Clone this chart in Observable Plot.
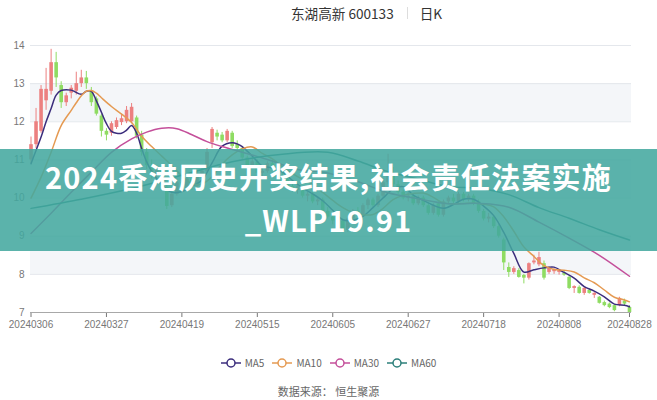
<!DOCTYPE html>
<html><head><meta charset="utf-8">
<script src="https://cdn.jsdelivr.net/npm/d3@7"></script>
<script src="https://cdn.jsdelivr.net/npm/@observablehq/plot@0.6"></script>
<style>
body{margin:0;background:#fff;font-family:"Noto Sans CJK SC","Noto Sans",sans-serif;}
#wrap{position:relative;width:657px;height:400px;overflow:hidden;background:#fff;}
#chart{position:absolute;left:0;top:0;}
#title{position:absolute;left:291px;top:3px;font-size:13.6px;line-height:20px;color:#333;display:flex;align-items:center;white-space:nowrap;}
#title .sep{display:inline-block;width:1px;height:12px;background:#ddd;margin:0 12px 0 13px;}
#banner{position:absolute;left:0;top:149px;width:657px;height:102px;background:rgba(67,168,159,0.87);color:#fff;font-weight:bold;font-size:29px;letter-spacing:1.2px;text-align:center;padding-top:6px;box-sizing:border-box;}
#banner div{height:42.5px;line-height:42.5px;white-space:nowrap;}
#legend{position:absolute;left:0;top:355px;width:657px;display:flex;justify-content:center;gap:8px;font-size:10px;color:#666;}
#legend .item{display:flex;align-items:center;}
#legend .item span{margin-left:4px;}
#source{position:absolute;left:0;top:383px;width:657px;text-align:center;font-size:11px;color:#666;}
</style></head>
<body>
<div id="wrap">
  <div id="chart"></div>
  <div id="title"><span>东湖高新 600133</span><span class="sep"></span><span>日K</span></div>
  <div id="banner"><div>2024香港历史开奖结果,社会责任法案实施</div><div>_WLP19.91</div></div>
  <div id="legend"></div>
  <div id="source">数据来源： 恒生聚源</div>
</div>
<script>
// ---- data ----
const tickIdx = [0, 15, 30, 45, 60, 75, 90, 105, 119];
const tickLabels = ["20240306","20240327","20240419","20240515","20240605","20240627","20240718","20240808","20240828"];
const yTicks = [7, 8, 9, 10, 11, 12, 13, 14];
const bands = [[8, 9], [10, 11], [12, 13]];

const open = [11.0,11.4,11.75,12.55,12.8,13.55,12.95,12.5,12.75,12.8,13.0,13.15,12.8,12.6,12.15,11.75,11.7,11.85,11.98,12.0,
12.0,12.1,11.65,11.2,10.85,10.6,10.7,10.28,9.8,10.1,10.4,10.25,10.5,10.3,10.6,10.7,11.45,11.7,11.65,11.5,
11.7,11.4,11.3,11.05,10.85,10.95,10.65,10.7,10.9,10.75,10.55,10.5,10.3,10.2,10.25,10.05,10.1,9.9,9.95,9.65,
9.5,9.4,9.4,9.15,9.45,9.65,9.55,9.8,9.95,9.8,10.05,10.4,10.6,10.35,10.15,10.0,10.05,9.85,10.0,9.8,
9.6,9.85,9.55,9.9,10.0,9.9,10.1,9.95,10.05,9.9,9.65,9.45,9.5,9.25,8.9,8.18,8.05,8.1,7.97,7.9,
8.3,8.25,8.28,8.05,8.07,8.05,8.02,7.92,7.63,7.66,7.5,7.58,7.45,7.4,7.26,7.22,7.18,7.18,7.3,7.13];
const high = [11.6,12.35,12.95,13.4,13.9,13.82,13.05,12.75,12.95,13.3,13.35,13.32,12.9,12.65,12.2,11.82,12.0,12.1,12.2,12.4,
12.48,12.15,11.75,11.3,11.0,10.85,10.75,10.35,10.2,10.5,10.55,10.6,10.6,10.7,10.8,11.3,11.85,11.78,11.72,11.8,
11.75,11.5,11.35,11.1,11.05,11.0,10.8,10.95,11.0,10.8,10.65,10.55,10.4,10.35,10.3,10.15,10.15,10.0,10.0,9.75,
9.6,9.55,9.45,9.5,9.7,9.75,9.85,10.0,10.0,10.1,10.5,11.15,10.8,10.45,10.2,10.15,10.1,10.05,10.05,9.85,
9.85,9.9,9.95,10.05,10.1,10.15,10.15,10.1,10.1,9.95,9.7,9.6,9.55,9.3,8.95,8.3,8.2,8.15,8.0,8.3,
8.5,8.58,8.35,8.2,8.15,8.12,8.08,7.95,7.7,7.7,7.66,7.62,7.52,7.42,7.3,7.25,7.2,7.4,7.35,7.18];
const low = [10.9,11.3,11.7,12.3,12.7,12.9,12.35,12.4,12.6,12.7,12.9,12.85,12.4,12.15,11.6,11.5,11.62,11.8,11.9,11.95,
11.95,11.55,11.1,10.75,10.5,10.5,10.2,9.7,9.75,10.05,10.15,10.2,10.2,10.25,10.45,10.65,11.3,11.5,11.45,11.45,
11.3,11.2,11.0,10.8,10.8,10.6,10.5,10.65,10.7,10.5,10.4,10.25,10.15,10.1,10.0,9.9,9.85,9.8,9.6,9.45,
9.3,9.3,9.1,9.1,9.4,9.5,9.5,9.7,9.75,9.75,10.0,10.35,10.3,10.1,9.95,9.9,9.8,9.8,9.75,9.55,
9.55,9.5,9.5,9.85,9.85,9.85,9.9,9.9,9.8,9.6,9.4,9.35,9.2,8.95,8.1,7.92,8.0,7.9,7.75,7.85,
8.25,8.2,7.85,8.0,8.0,7.98,7.95,7.6,7.5,7.48,7.45,7.48,7.37,7.22,7.15,7.1,7.02,7.15,7.18,7.0];
const close = [11.4,12.0,12.85,12.85,13.55,13.15,12.5,12.68,12.88,13.0,13.15,13.0,12.5,12.2,11.75,11.65,11.95,12.03,12.08,12.3,
12.38,11.62,11.2,10.85,10.6,10.75,10.3,9.78,10.1,10.4,10.25,10.5,10.3,10.6,10.7,11.2,11.8,11.6,11.5,11.75,
11.35,11.3,11.05,10.85,10.95,10.65,10.7,10.9,10.75,10.55,10.5,10.3,10.2,10.3,10.05,10.1,9.9,9.95,9.65,9.5,
9.4,9.45,9.15,9.45,9.65,9.55,9.8,9.95,9.8,10.05,10.4,10.6,10.35,10.15,10.0,10.05,9.85,10.0,9.8,9.6,
9.8,9.55,9.9,10.0,9.9,10.1,9.95,10.05,9.85,9.65,9.45,9.5,9.25,9.0,8.3,8.05,8.15,7.92,7.9,8.28,
8.35,8.44,7.9,8.15,8.12,8.1,7.98,7.63,7.68,7.5,7.63,7.5,7.5,7.24,7.18,7.13,7.05,7.37,7.22,7.0];

const ma5X = [0,1,2,3,4,5,6,8,10,11,12,13,14,15,16,17,18,19,20,21,22,23,24,26,28,30,32,34,36,38,40,41,42,44,46,48,50,52,54,56,58,60,62,64,66,68,70,72,74,76,78,80,82,84,86,88,90,92,94,96,98,100,102,104,106,108,110,112,114,116,118,119];
const ma5Y = [10.9,11.25,11.6,12.0,12.35,12.7,12.82,12.83,12.72,12.8,12.8,12.55,12.25,11.95,11.75,11.7,11.7,11.78,11.9,11.7,11.3,10.95,10.7,10.35,10.15,10.17,10.31,10.47,10.92,11.36,11.45,11.42,11.35,11.1,10.84,10.79,10.68,10.46,10.27,10.11,9.93,9.68,9.43,9.42,9.52,9.75,10.0,10.24,10.3,10.08,9.94,9.81,9.73,9.83,9.97,9.97,9.79,9.54,9.1,8.55,8.06,8.12,8.17,8.19,8.05,7.9,7.68,7.56,7.41,7.22,7.19,7.15];
const ma10X = [0,2,4,6,8,9,10,11,12,13,14,16,18,20,22,24,26,28,30,32,34,36,38,40,42,44,46,48,50,52,54,56,58,60,62,64,66,68,70,72,74,76,78,80,82,84,86,88,90,92,94,96,98,100,102,104,106,108,110,112,114,116,118,119];
const ma10Y = [10.0,10.55,11.2,11.9,12.3,12.5,12.68,12.8,12.82,12.75,12.63,12.4,12.2,11.98,11.62,11.35,11.1,10.85,10.58,10.38,10.37,10.56,10.89,11.13,11.29,11.34,11.17,11.03,10.82,10.64,10.49,10.36,10.15,9.94,9.75,9.62,9.56,9.57,9.73,9.96,10.07,10.12,10.13,10.02,9.87,9.85,9.86,9.87,9.84,9.77,9.51,9.13,8.72,8.47,8.23,8.13,8.11,8.06,7.91,7.78,7.59,7.4,7.33,7.28];
const ma30X = [0,4,8,12,16,20,23,26,29,32,35,38,41,47,53,59,65,71,77,83,89,95,101,107,113,119];
const ma30Y = [9.07,9.6,10.15,10.68,11.2,11.55,11.73,11.83,11.82,11.66,11.48,11.35,11.24,11.01,10.75,10.66,10.43,10.14,9.98,9.85,9.86,9.76,9.37,8.95,8.5,7.95];
const ma60X = [0,10,20,30,40,50,59,65,71,77,83,89,95,101,107,113,119];
const ma60Y = [9.73,9.97,10.25,10.6,10.95,11.15,11.2,10.97,10.69,10.5,10.3,10.26,10.09,9.75,9.47,9.17,8.9];

const maNames = ["MA5", "MA10", "MA30", "MA60"];
const maColors = ["#3b2d7c", "#e59a52", "#c44f9a", "#2c7f7a"];
const upColor = "#ec8080", downColor = "#8fdc62";

// ---- build ----
const candles = open.map((o, i) => ({i, open: o, high: high[i], low: low[i], close: close[i]}));
const colorOf = d => d.close >= d.open ? upColor : downColor;
const maSets = [[ma5X, ma5Y], [ma10X, ma10Y], [ma30X, ma30Y], [ma60X, ma60Y]]
  .map(([xs, ys]) => xs.map((x, k) => ({i: x, v: ys[k]})));

const chart = Plot.plot({
  width: 657, height: 340,
  marginLeft: 30, marginRight: 26, marginTop: 45, marginBottom: 28,
  x: {domain: [-0.1, 119.4], ticks: tickIdx, tickFormat: i => tickLabels[tickIdx.indexOf(i)], tickSize: 5, tickPadding: 3, label: null},
  y: {domain: [7, 14], ticks: yTicks, tickFormat: d => String(d), tickSize: 0, tickPadding: 6, label: null},
  style: {fontFamily: "'Liberation Sans', 'Noto Sans', sans-serif", fontSize: "10px", color: "#777", background: "transparent"},
  marks: [
    Plot.rect(bands, {y1: d => d[0], y2: d => d[1], fill: "#f4f6f9"}),
    Plot.ruleY(yTicks.filter(v => v > 7), {stroke: "#e4e7ec"}),
    Plot.ruleY([7], {stroke: "#a8a8a8"}),
    Plot.ruleX(candles, {x: "i", y1: "low", y2: "high", stroke: colorOf, strokeWidth: 1}),
    Plot.ruleX(candles, {x: "i", y1: "open", y2: "close", stroke: colorOf, strokeWidth: 3.6}),
    ...maSets.map((rows, k) => Plot.line(rows, {x: "i", y: "v", stroke: maColors[k], strokeWidth: 1.5, curve: "catmull-rom"}))
  ]
});
document.getElementById("chart").appendChild(chart);

// legend
const legend = document.getElementById("legend");
maNames.forEach((n, k) => {
  const item = document.createElement("div");
  item.className = "item";
  item.innerHTML = `<svg width="20" height="12"><line x1="0" y1="6" x2="20" y2="6" stroke="${maColors[k]}" stroke-width="1.5"/><circle cx="10" cy="6" r="4" fill="#fff" stroke="${maColors[k]}" stroke-width="1.5"/></svg><span>${n}</span>`;
  legend.appendChild(item);
});
</script>
</body></html>
